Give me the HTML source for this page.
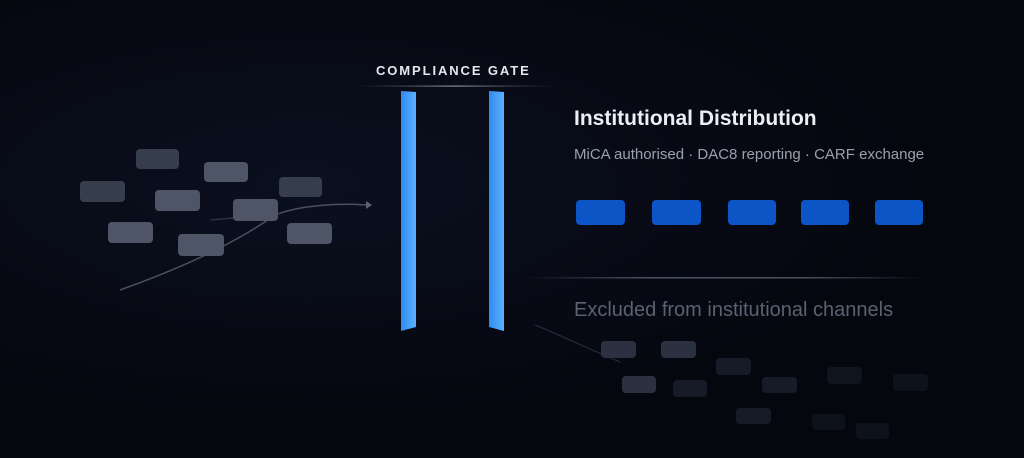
<!DOCTYPE html>
<html><head><meta charset="utf-8"><style>
html,body{margin:0;padding:0;background:#05070f;}
body{width:1024px;height:458px;position:relative;overflow:hidden;font-family:"Liberation Sans",sans-serif;
background:radial-gradient(ellipse at 30% 40%,#0b1020 0%,#05070f 60%);}
.b{position:absolute;border-radius:4px;}
.g{background:#4d5567;}
.d{background:#363d4c;}
.e{background:#2b3140;}
.f{background:#161b27;}
.bl{position:absolute;background:#0b55c6;border-radius:4px;top:200px;height:25px;}
.t{position:absolute;white-space:nowrap;}
</style></head><body>
<svg width="1024" height="458" style="position:absolute;left:0;top:0">
<defs>
<linearGradient id="bar" x1="0" x2="1"><stop offset="0" stop-color="#2f8cf0"/><stop offset="1" stop-color="#5cb0ff"/></linearGradient>
<linearGradient id="ln" x1="0" x2="1"><stop offset="0" stop-color="#5a6070" stop-opacity="0"/><stop offset="0.5" stop-color="#8a90a0"/><stop offset="1" stop-color="#5a6070" stop-opacity="0"/></linearGradient>
<linearGradient id="ln2" x1="0" x2="1"><stop offset="0" stop-color="#4a5060" stop-opacity="0"/><stop offset="0.3" stop-color="#4a5060"/><stop offset="0.7" stop-color="#4a5060"/><stop offset="1" stop-color="#4a5060" stop-opacity="0"/></linearGradient>
</defs>
<path d="M120 290 C190 265 240 240 275 215 C300 205 340 203 366 205" stroke="#4a5060" stroke-width="1.5" fill="none"/>
<path d="M366 201 L372 205 L366 209 Z" fill="#5a6070"/>
<path d="M210 220 L280 214" stroke="#2a3040" stroke-width="1.5" fill="none"/>
<path d="M535 325 C560 335 580 345 620 362" stroke="#2a3040" stroke-width="1" fill="none"/>
<rect x="355" y="85.5" width="200" height="1.2" fill="url(#ln)"/>
<rect x="525" y="277" width="400" height="1.5" fill="url(#ln2)"/>
<polygon points="401,91 416,92 416,327 401,331" fill="url(#bar)"/>
<polygon points="489,91 504,92 504,331 489,327" fill="url(#bar)"/>
</svg>
<div class="t" style="left:376px;top:63px;font-size:13px;font-weight:bold;letter-spacing:1.9px;color:#e6e8ee">COMPLIANCE GATE</div>
<div class="b d" style="left:136px;top:149px;width:43px;height:20px"></div>
<div class="b g" style="left:204px;top:162px;width:44px;height:20px"></div>
<div class="b d" style="left:80px;top:181px;width:45px;height:21px"></div>
<div class="b g" style="left:155px;top:190px;width:45px;height:21px"></div>
<div class="b d" style="left:279px;top:177px;width:43px;height:20px"></div>
<div class="b g" style="left:233px;top:199px;width:45px;height:22px"></div>
<div class="b g" style="left:108px;top:222px;width:45px;height:21px"></div>
<div class="b g" style="left:178px;top:234px;width:46px;height:22px"></div>
<div class="b g" style="left:287px;top:223px;width:45px;height:21px"></div>
<div class="t" style="left:574px;top:107px;font-size:21px;font-weight:bold;color:#eceef3">Institutional Distribution</div>
<div class="t" style="left:574px;top:146px;font-size:15px;color:#9aa0ac">MiCA authorised · DAC8 reporting · CARF exchange</div>
<div class="bl" style="left:576px;width:49px"></div>
<div class="bl" style="left:652px;width:49px"></div>
<div class="bl" style="left:728px;width:48px"></div>
<div class="bl" style="left:801px;width:48px"></div>
<div class="bl" style="left:875px;width:48px"></div>
<div class="t" style="left:574px;top:299px;font-size:20px;color:#5a6170">Excluded from institutional channels</div>
<div class="b e" style="left:601px;top:341px;width:35px;height:17px"></div>
<div class="b e" style="left:661px;top:341px;width:35px;height:17px"></div>
<div class="b f" style="left:716px;top:358px;width:35px;height:17px"></div>
<div class="b e" style="left:622px;top:376px;width:34px;height:17px"></div>
<div class="b f" style="left:673px;top:380px;width:34px;height:17px"></div>
<div class="b f" style="left:762px;top:377px;width:35px;height:16px"></div>
<div class="b f" style="left:736px;top:408px;width:35px;height:16px"></div>
<div class="b" style="left:827px;top:367px;width:35px;height:17px;background:#10141e"></div>
<div class="b" style="left:893px;top:374px;width:35px;height:17px;background:#0e121c"></div>
<div class="b" style="left:812px;top:414px;width:33px;height:16px;background:#0d111a"></div>
<div class="b" style="left:856px;top:423px;width:33px;height:16px;background:#0d111a"></div>
</body></html>
